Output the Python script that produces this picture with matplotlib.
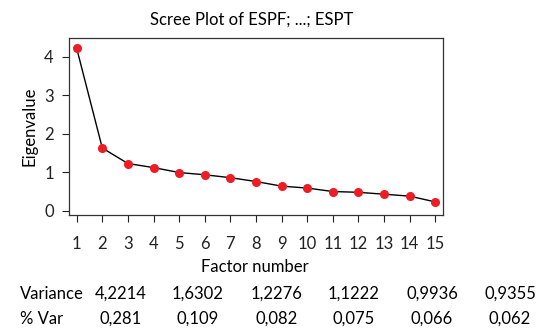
import matplotlib
matplotlib.use("Agg")
import matplotlib.pyplot as plt

plt.rcParams['font.family'] = ['Lato', 'DejaVu Sans']

# eigenvalues (first six from the table)
factors = list(range(1, 16))
eigen = [4.2214, 1.6302, 1.2276, 1.1222, 0.9936, 0.9355,
         0.86, 0.76, 0.64, 0.59, 0.50, 0.48, 0.43, 0.38, 0.23]
variance_txt = ['4,2214', '1,6302', '1,2276', '1,1222', '0,9936', '0,9355']
pctvar_txt = ['0,281', '0,109', '0,082', '0,075', '0,066', '0,062']

fig = plt.figure(figsize=(5.41, 3.33), dpi=100)
ax = fig.add_axes([69/541, 1 - 215/333, (443-69)/541, (215-38)/333])

ax.plot(factors, eigen, color='black', lw=1, zorder=1)
ax.plot(factors, eigen, 'o', color='#ee1c25', ms=5.5, zorder=2)

ax.set_xlim(0.70, 15.3)
ax.set_ylim(-0.11, 4.49)
ax.set_xticks(factors)
ax.set_yticks([0, 1, 2, 3, 4])
ax.tick_params(direction='out', length=5, width=0.8, labelsize=12,
               colors='#222222', pad=6)
ax.tick_params(axis='x', pad=10)
for s in ax.spines.values():
    s.set_linewidth(0.9)
    s.set_color('#333333')

ax.set_ylabel('Eigenvalue', fontsize=12, labelpad=5)
fig.text(252/541, 1 - 20/333, 'Scree Plot of ESPF; ...; ESPT',
         ha='center', va='center', fontsize=12)
fig.text(255/541, 1 - 267/333, 'Factor number', ha='center', va='center',
         fontsize=12)

# variance table below the axis
col_x = [121, 198, 277, 354, 432, 510]
fig.text(20/541, 1 - 294/333, 'Variance', ha='left', va='center', fontsize=12)
fig.text(20/541, 1 - 319/333, '% Var', ha='left', va='center', fontsize=12)
for x, v, p in zip(col_x, variance_txt, pctvar_txt):
    fig.text(x/541, 1 - 294/333, v, ha='center', va='center', fontsize=12)
    fig.text(x/541, 1 - 319/333, p, ha='center', va='center', fontsize=12)

fig.savefig('out.png', dpi=100)
